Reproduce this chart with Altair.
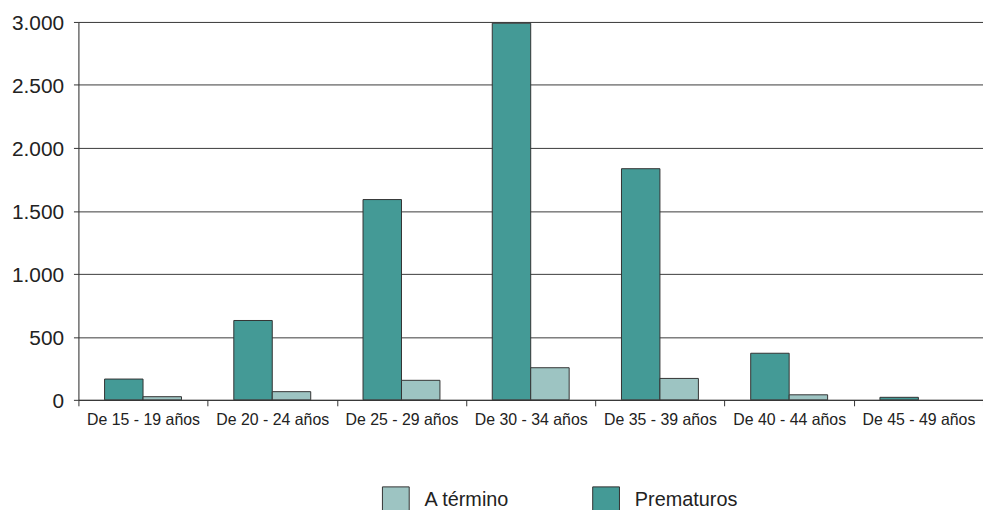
import altair as alt
import pandas as pd

categories = ["De 15 - 19 años", "De 20 - 24 años", "De 25 - 29 años", "De 30 - 34 años",
              "De 35 - 39 años", "De 40 - 44 años", "De 45 - 49 años"]
prematuros = [165, 630, 1590, 2990, 1835, 370, 20]
a_termino = [25, 65, 155, 255, 170, 40, 0]
series_names = ["A término", "Prematuros"]
y_ticks = [0, 500, 1000, 1500, 2000, 2500, 3000]

rows = []
for c, p, a in zip(categories, prematuros, a_termino):
    rows.append({"cat": c, "serie": "Prematuros", "valor": p})
    rows.append({"cat": c, "serie": "A término", "valor": a})
df = pd.DataFrame(rows)

chart = alt.Chart(df).transform_filter("datum.valor > 0").mark_bar(
    stroke="#333333", strokeWidth=1
).encode(
    x=alt.X("cat:N", sort=categories, title=None,
            scale=alt.Scale(domain=categories, paddingInner=0, paddingOuter=0),
            axis=alt.Axis(labelAngle=0, tickBand="extent", tickSize=6, tickColor="#333333",
                          domainColor="#333333", labelFont="Liberation Sans",
                          labelFontSize=16, labelColor="#222222", labelPadding=6,
                          labelLimit=200)),
    xOffset=alt.XOffset("serie:N", sort=["Prematuros", "A término"],
                        scale=alt.Scale(domain=["Prematuros", "A término"],
                                        paddingInner=0, paddingOuter=0.68)),
    y=alt.Y("valor:Q", title=None,
            scale=alt.Scale(domain=[0, 3000], nice=False),
            axis=alt.Axis(values=y_ticks, grid=True, gridColor="#3a3a3a", gridOpacity=1,
                          tickSize=5, tickColor="#333333", domainColor="#333333",
                          labelFont="Liberation Sans", labelFontSize=21, labelColor="#222222",
                          labelPadding=10, labelOffset=2,
                          labelExpr="replace(format(datum.value, ','), ',', '.')")),
    color=alt.Color("serie:N",
                    scale=alt.Scale(domain=series_names, range=["#9dc4c2", "#449a96"]),
                    legend=alt.Legend(orient="none", legendX=306, legendY=468,
                                      direction="horizontal", title=None,
                                      symbolType="square", symbolSize=729,
                                      symbolStrokeColor="#333333", symbolStrokeWidth=1,
                                      labelFont="Liberation Sans", labelFontSize=20,
                                      labelColor="#222222", labelOffset=15,
                                      columnPadding=81, padding=0, labelLimit=300)),
).properties(
    width=912, height=381,
    autosize=alt.AutoSizeParams(type="none"),
    padding={"left": 71, "top": 12, "right": 0, "bottom": 109},
).configure_view(stroke=None).configure(background="white")

chart.save("out.html", embed_options={"renderer": "svg", "actions": False})
